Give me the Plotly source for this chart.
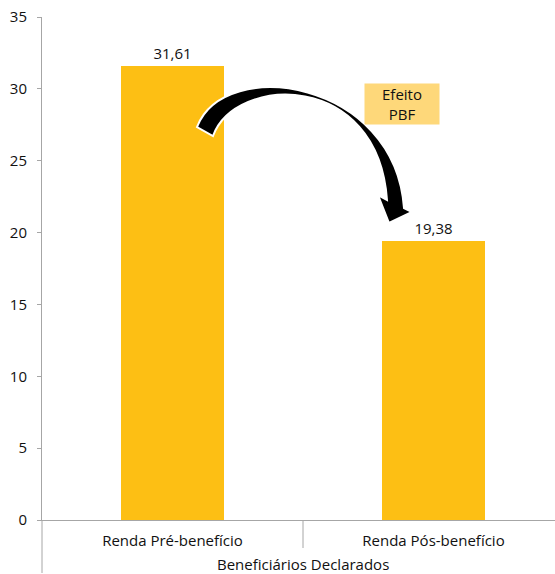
import plotly.graph_objects as go

categories = ["Renda Pré-benefício", "Renda Pós-benefício"]
values = [31.61, 19.38]
value_labels = ["31,61", "19,38"]
y_ticks = [0, 5, 10, 15, 20, 25, 30, 35]
x_title = "Beneficiários Declarados"
effect_label = "Efeito<br>PBF"

W, H = 555, 574
ML, MR, MT, MB = 42, 0, 17, 54
PW, PH = W - ML - MR, H - MT - MB
CAT_PX = 261  # pixel width of one category slot

BAR_COLOR = "#FDBF14"
BOX_COLOR = "#FED87A"
AXIS_COLOR = "#A6A6A6"
TEXT_COLOR = "#111111"
FONT = "Open Sans"
FS = 15


def P(px, py):
    """pixel -> paper coordinates"""
    return (px - ML) / PW, (H - MB - py) / PH


def pt(px, py):
    x, y = P(px, py)
    return f"{x:.5f},{y:.5f}"


# curved arrow decoration (outer edge, head, inner edge)
outer = [(197, 127), (225, 55), (395, 80), (404, 208)]
inner = [(213, 136), (235, 75), (378, 70), (387, 200)]
head = [(412, 212), (389, 223), (378, 195)]
arrow_path = (
    f"M{pt(*outer[0])} C{pt(*outer[1])} {pt(*outer[2])} {pt(*outer[3])} "
    f"L{pt(*head[0])} L{pt(*head[1])} L{pt(*head[2])} L{pt(*inner[3])} "
    f"C{pt(*inner[2])} {pt(*inner[1])} {pt(*inner[0])} Z"
)

fig = go.Figure()
fig.add_trace(go.Bar(
    x=categories, y=values, width=0.395,
    marker=dict(color=BAR_COLOR, line=dict(width=0)),
    text=value_labels, textposition="outside",
    textfont=dict(family=FONT, size=FS, color=TEXT_COLOR),
    cliponaxis=False, hoverinfo="skip",
))

x_span = PW / CAT_PX
fig.update_layout(
    width=W, height=H,
    margin=dict(l=ML, r=MR, t=MT, b=MB, pad=0),
    paper_bgcolor="white", plot_bgcolor="white",
    showlegend=False,
    font=dict(family=FONT, size=FS, color=TEXT_COLOR),
    xaxis=dict(
        range=[-0.5, -0.5 + x_span], showline=True, linecolor=AXIS_COLOR,
        linewidth=1, ticks="", showgrid=False, zeroline=False,
        tickfont=dict(family=FONT, size=FS, color=TEXT_COLOR),
        ticklabelstandoff=7,
    ),
    yaxis=dict(
        range=[0, 35], tickvals=y_ticks, showline=True, linecolor=AXIS_COLOR,
        linewidth=1, ticks="outside", ticklen=4, tickcolor=AXIS_COLOR,
        showgrid=False, zeroline=False,
        tickfont=dict(family=FONT, size=FS, color=TEXT_COLOR),
        ticklabelstandoff=7,
    ),
    bargap=0,
)

# extended y axis line and category separator
fig.add_shape(type="line", xref="paper", yref="paper",
              x0=0, x1=0, y0=0, y1=P(0, 573)[1],
              line=dict(color=AXIS_COLOR, width=1))
fig.add_shape(type="line", xref="x", yref="paper",
              x0=0.5, x1=0.5, y0=0, y1=P(0, 548)[1],
              line=dict(color=AXIS_COLOR, width=1))

fig.add_shape(type="path", xref="paper", yref="paper", path=arrow_path,
              fillcolor="black", line=dict(color="white", width=2),
              layer="above")

bx, by = P(402, 104)
fig.add_annotation(
    xref="paper", yref="paper", x=bx, y=by, text=effect_label,
    showarrow=False, bgcolor=BOX_COLOR, width=74, height=40,
    borderpad=0, font=dict(family=FONT, size=FS, color=TEXT_COLOR),
    xanchor="center", yanchor="middle",
)

tx, ty = P(0, 564)
fig.add_annotation(
    xref="x", yref="paper", x=0.5, y=ty, text=x_title, showarrow=False,
    font=dict(family=FONT, size=FS, color=TEXT_COLOR),
    xanchor="center", yanchor="middle", borderpad=0,
)

fig.write_html("out.html")
